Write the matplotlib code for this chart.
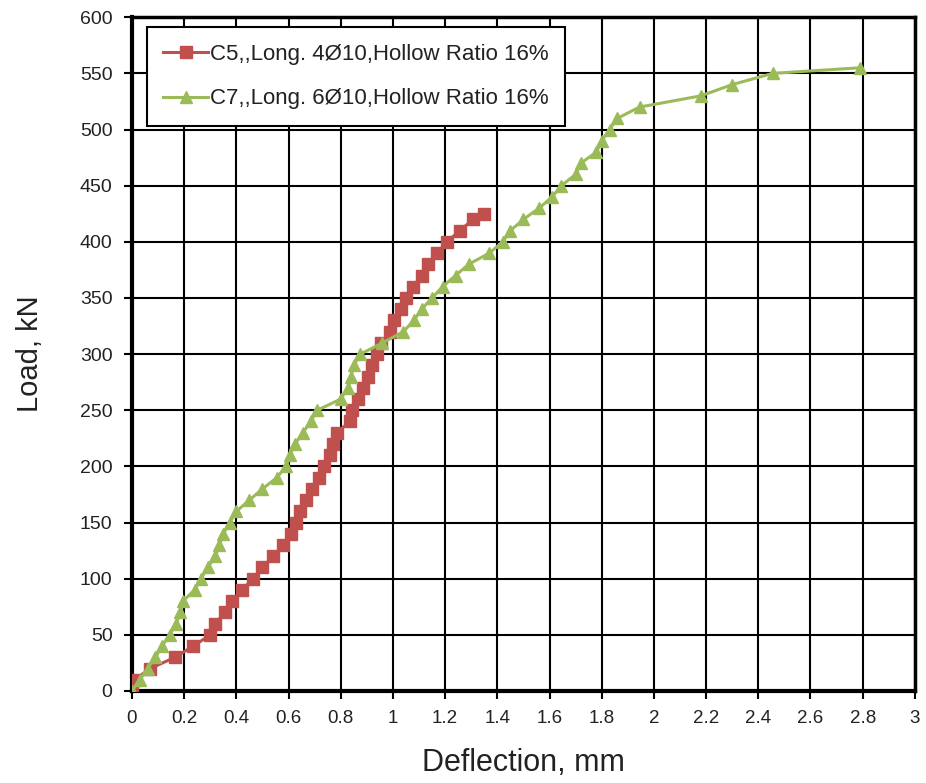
import matplotlib.pyplot as plt

plt.rcParams["font.family"] = ["Liberation Sans", "DejaVu Sans"]

# C5 column: load steps (kN) and measured deflection (mm)
c5_load = [0, 10, 20, 30, 40, 50, 60, 70, 80, 90, 100, 110, 120, 130, 140,
           150, 160, 170, 180, 190, 200, 210, 220, 230, 240, 250, 260, 270,
           280, 290, 300, 310, 320, 330, 340, 350, 360, 370, 380, 390, 400,
           410, 420, 425]
c5_defl = [0, 0.01, 0.07, 0.165, 0.235, 0.30, 0.32, 0.355, 0.385, 0.42, 0.465,
           0.50, 0.54, 0.58, 0.61, 0.63, 0.645, 0.665, 0.69, 0.715, 0.735,
           0.76, 0.77, 0.785, 0.835, 0.845, 0.865, 0.885, 0.905, 0.92, 0.94,
           0.955, 0.99, 1.005, 1.03, 1.05, 1.077, 1.11, 1.134, 1.17, 1.207,
           1.257, 1.307, 1.349]

# C7 column
c7_load = [0, 10, 20, 30, 40, 50, 60, 70, 80, 90, 100, 110, 120, 130, 140,
           150, 160, 170, 180, 190, 200, 210, 220, 230, 240, 250, 260, 270,
           280, 290, 300, 310, 320, 330, 340, 350, 360, 370, 380, 390, 400,
           410, 420, 430, 440, 450, 460, 470, 480, 490, 500, 510, 520, 530,
           540, 550, 555]
c7_defl = [0, 0.03, 0.06, 0.09, 0.115, 0.145, 0.17, 0.185, 0.195, 0.24, 0.265,
           0.29, 0.32, 0.335, 0.35, 0.375, 0.40, 0.45, 0.50, 0.555, 0.59,
           0.605, 0.625, 0.655, 0.685, 0.71, 0.80, 0.828, 0.84, 0.85, 0.875,
           0.96, 1.04, 1.08, 1.11, 1.15, 1.19, 1.24, 1.29, 1.37, 1.42, 1.45,
           1.50, 1.56, 1.61, 1.645, 1.70, 1.72, 1.78, 1.80, 1.83, 1.86,
           1.945, 2.18, 2.30, 2.455, 2.79]

x_ticks = [0, 0.2, 0.4, 0.6, 0.8, 1, 1.2, 1.4, 1.6, 1.8, 2, 2.2, 2.4, 2.6, 2.8, 3]
x_labels = ["0", "0.2", "0.4", "0.6", "0.8", "1", "1.2", "1.4", "1.6", "1.8",
            "2", "2.2", "2.4", "2.6", "2.8", "3"]
y_ticks = list(range(0, 601, 50))

fig = plt.figure(figsize=(9.26, 7.83), dpi=100)
ax = fig.add_axes([0.1425, 0.1175, 0.8455, 0.8605])

ax.plot(c5_defl, c5_load, color="#C0504D", marker="s", markersize=8,
        linewidth=2.2, label="C5,,Long. 4Ø10,Hollow Ratio 16%", zorder=3)
ax.plot(c7_defl, c7_load, color="#9BBB59", marker="^", markersize=8,
        linewidth=2.2, label="C7,,Long. 6Ø10,Hollow Ratio 16%", zorder=4)

ax.set_xlim(0, 3)
ax.set_ylim(0, 600)
ax.set_xticks(x_ticks)
ax.set_xticklabels(x_labels, fontsize=13.5)
ax.set_yticks(y_ticks)
ax.tick_params(axis="y", labelsize=14, direction="out", length=6, width=1.5,
               pad=8, labelcolor="#222222")
ax.tick_params(axis="x", direction="out", length=6, width=1.5, pad=8,
               labelcolor="#222222")

ax.grid(True, color="black", linewidth=1.5)
ax.set_axisbelow(True)
for side in ["left", "bottom"]:
    ax.spines[side].set_linewidth(3)
for side in ["top", "right"]:
    ax.spines[side].set_linewidth(2.5)

ax.set_xlabel("Deflection, mm", fontsize=22, labelpad=15, color="#222222")
ax.set_ylabel("Load, kN", fontsize=21, labelpad=26, color="#222222")

leg = ax.legend(loc="upper left", bbox_to_anchor=(0.019, 0.985),
                borderaxespad=0, fontsize=16, handlelength=2.0,
                handletextpad=0.1, labelspacing=1.05, borderpad=0.75,
                fancybox=False, framealpha=1, edgecolor="black")
leg.get_frame().set_linewidth(1.5)
for text in leg.get_texts():
    text.set_color("#222222")

fig.savefig("out.png", dpi=100)
